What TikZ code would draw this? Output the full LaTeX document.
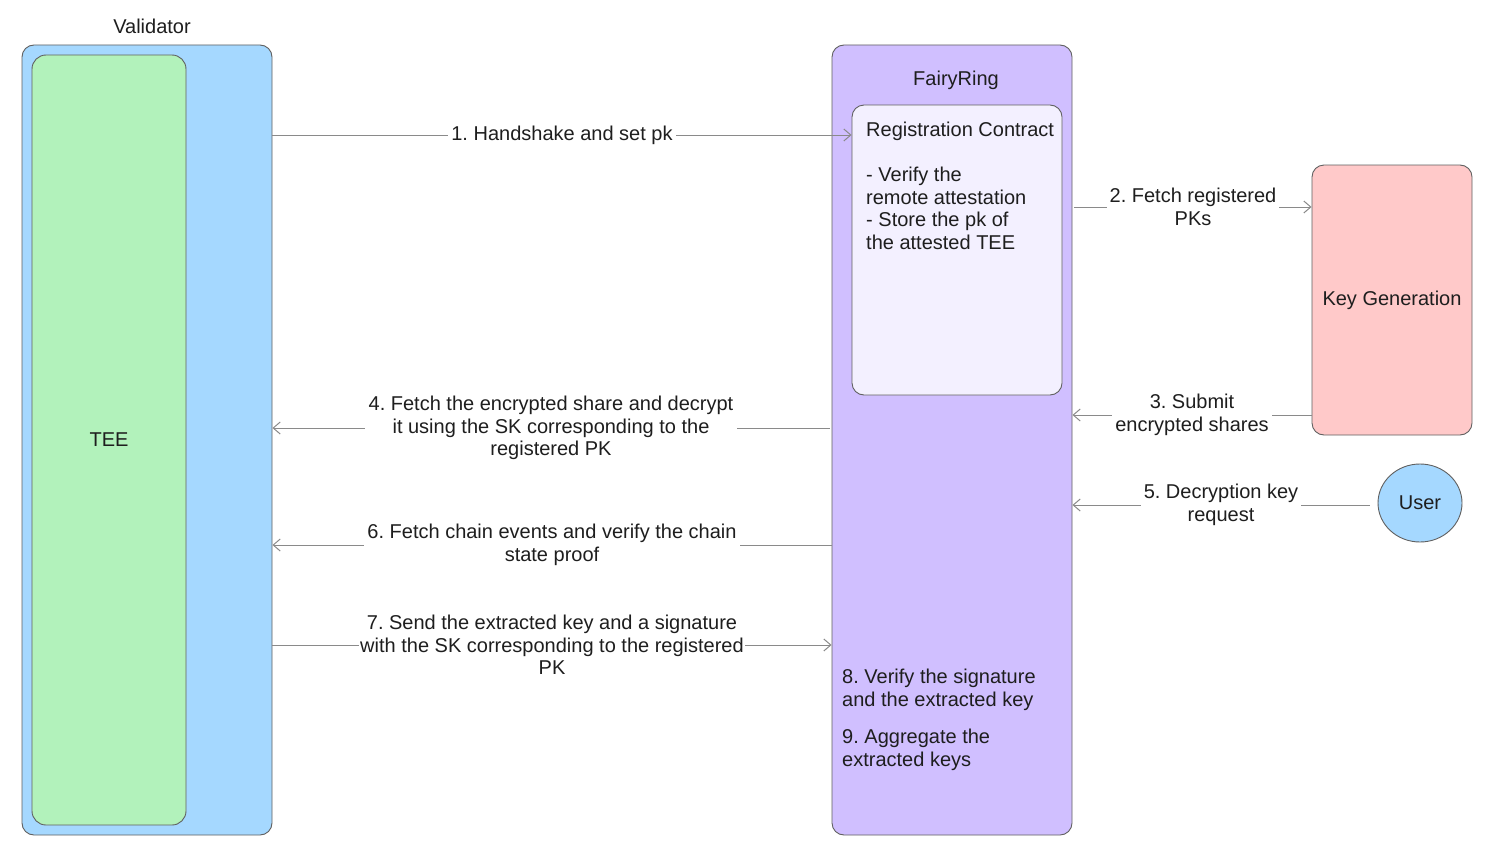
\documentclass[tikz,border=0pt]{standalone}
\usepackage{fontspec}
\setmainfont{Liberation Sans}
\frenchspacing
\usetikzlibrary{arrows.meta,shapes.geometric}
\definecolor{bluefill}{HTML}{A5D8FF}
\definecolor{greenfill}{HTML}{B2F2BB}
\definecolor{violetfill}{HTML}{D0BFFF}
\definecolor{lightviolet}{HTML}{F3F0FF}
\definecolor{redfill}{HTML}{FFC9C9}
\definecolor{edgecol}{HTML}{606060}
\definecolor{arrcol}{HTML}{8A8A8A}
\definecolor{txt}{HTML}{1E1E1E}
\tikzset{
  box/.style={draw=edgecol, line width=0.9pt, rounded corners=12pt, inner sep=0pt},
  txtstyle/.style={text=txt, font=\fontsize{20}{22.5}\selectfont},
  lbl/.style={txtstyle, fill=white, align=center, inner sep=3pt},
  arr/.style={draw=arrcol, line width=1pt, -{Straight Barb[length=7pt,width=12pt,line width=1pt]}},
}
\begin{document}
\begin{tikzpicture}[x=1pt,y=-1pt]
\useasboundingbox (0,0) rectangle (1504,859);
\fill[white] (0,0) rectangle (1504,859);

% Validator
\node[txtstyle] (vallbl) at (152,26) {Validator};
\node[box, fill=bluefill, minimum width=250pt, minimum height=790pt] (val) at (147,440) {};
\node[box, fill=greenfill, minimum width=154pt, minimum height=770pt, rounded corners=14pt, txtstyle] (tee) at (109,440) {TEE};

% FairyRing
\node[box, fill=violetfill, minimum width=240pt, minimum height=790pt] (fr) at (952,440) {};
\node[txtstyle] (frlbl) at (956,80) {FairyRing};
\node[box, fill=lightviolet, minimum width=210pt, minimum height=290pt] (reg) at (957,250) {};
\node[txtstyle, align=left, anchor=base west, inner sep=0pt] (regtxt) at (866,249)
  {Registration Contract\\ \\- Verify the\\remote attestation\\- Store the pk of\\the attested TEE};
\node[txtstyle, align=left, anchor=base west, inner sep=0pt] (step8) at (842,706)
  {8. Verify the signature\\and the extracted key};
\node[txtstyle, align=left, anchor=base west, inner sep=0pt] (step9) at (842,766)
  {9. Aggregate the\\extracted keys};

% Key generation
\node[box, fill=redfill, minimum width=160pt, minimum height=270pt, txtstyle] (kg) at (1392,300) {Key Generation};

% User
\node[ellipse, draw=edgecol, line width=0.9pt, fill=bluefill, minimum width=84pt, minimum height=78pt, inner sep=0pt, txtstyle] (user) at (1420,503) {User};

% Connectors
\draw[arr] (val.east |- 0,135) -- node[lbl] {1. Handshake and set pk} (reg.west |- 0,135);
\draw[arr] ([xshift=2pt]fr.east |- 0,207) -- node[lbl] {2. Fetch registered\\PKs} (kg.west |- 0,207);
\draw[arr] (kg.west |- 0,415) -- node[lbl] {3. Submit\\encrypted shares} (fr.east |- 0,415);
\draw[arr] ([xshift=-2pt]fr.west |- 0,428) -- node[lbl, inner xsep=4pt] {4. Fetch the encrypted share and decrypt\\it using the SK corresponding to the\\registered PK} (val.east |- 0,428);
\draw[arr] ([xshift=-8pt]user.west |- 0,505) -- node[lbl] {5. Decryption key\\request} (fr.east |- 0,505);
\draw[arr] (fr.west |- 0,545) -- node[lbl] {6. Fetch chain events and verify the chain\\state proof} (val.east |- 0,545);
\draw[arr] (val.east |- 0,645) -- node[lbl, inner xsep=1pt] {7. Send the extracted key and a signature\\with the SK corresponding to the registered\\PK} (fr.west |- 0,645);
\end{tikzpicture}
\end{document}
